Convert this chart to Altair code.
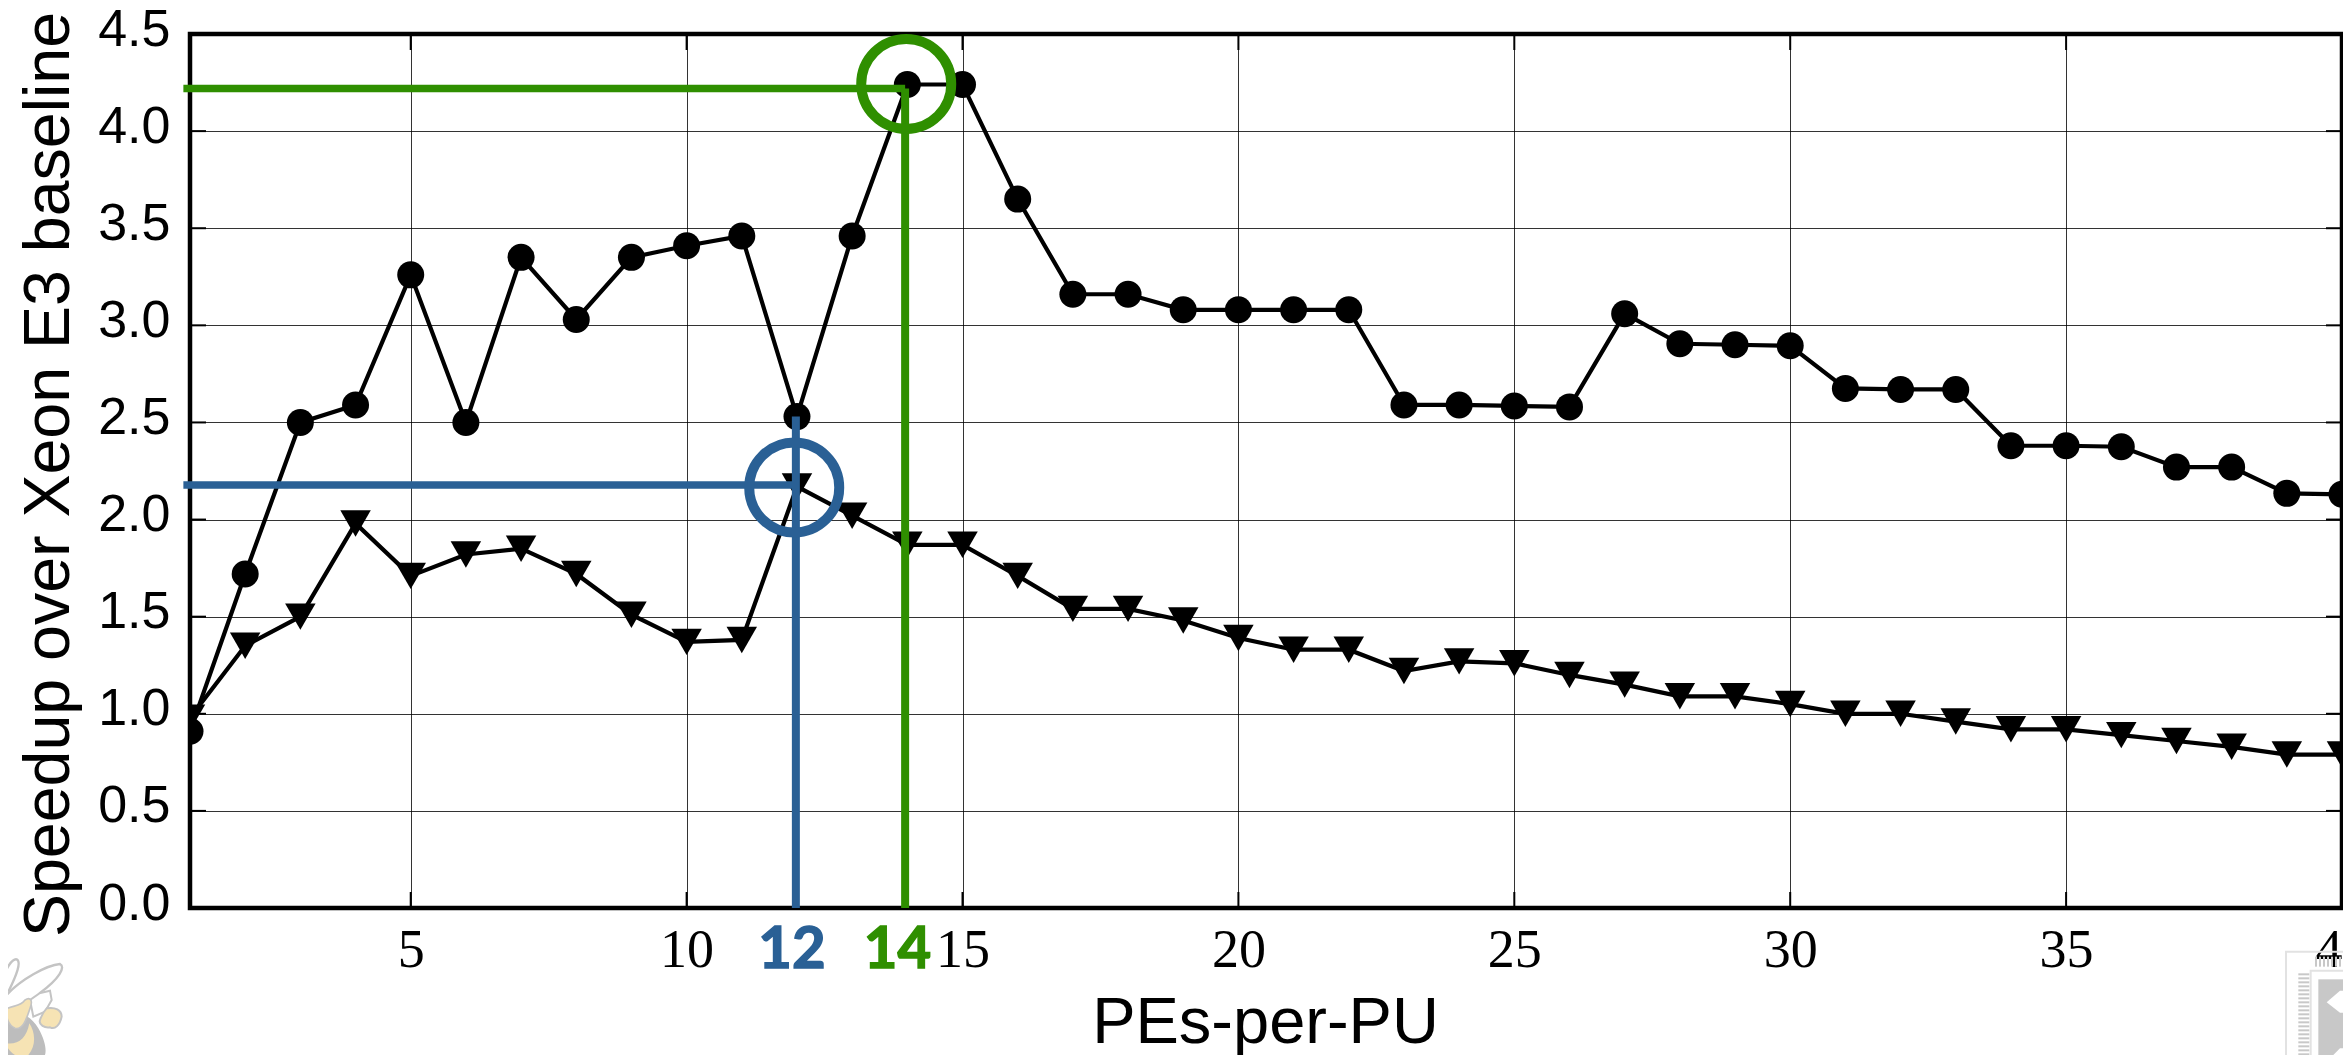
import urllib.parse
import altair as alt
import pandas as pd

pes = list(range(1, 41))
circle_speedup = [0.91, 1.72, 2.50, 2.59, 3.26, 2.50, 3.35, 3.03, 3.35, 3.41,
                  3.46, 2.53, 3.46, 4.24, 4.24, 3.65, 3.16, 3.16, 3.08, 3.08,
                  3.08, 3.08, 2.59, 2.59, 2.585, 2.58, 3.06, 2.905, 2.90, 2.895,
                  2.675, 2.67, 2.67, 2.38, 2.38, 2.375, 2.27, 2.27, 2.135, 2.13]
triangle_speedup = [0.98, 1.35, 1.50, 1.98, 1.71, 1.82, 1.85, 1.72, 1.51, 1.37,
                    1.38, 2.17, 2.02, 1.87, 1.87, 1.71, 1.54, 1.54, 1.48, 1.39,
                    1.33, 1.33, 1.22, 1.27, 1.26, 1.20, 1.15, 1.09, 1.09, 1.05,
                    1.00, 1.00, 0.96, 0.92, 0.92, 0.89, 0.86, 0.83, 0.79, 0.79]
x_ticks = [5, 10, 15, 20, 25, 30, 35, 40]
y_ticks = [0.5, 1.0, 1.5, 2.0, 2.5, 3.0, 3.5, 4.0]
y_labels = [0.0, 0.5, 1.0, 1.5, 2.0, 2.5, 3.0, 3.5, 4.0, 4.5]

BLUE = "#2a6095"
GREEN = "#2f8f00"
callouts = pd.DataFrame({
    "label": ["12", "14"], "color": [BLUE, GREEN],
    "x": [11.98, 13.96], "y": [2.178, 4.22],
    "top": [2.53, 4.22], "x_start": [0.88, 0.88],
    "cx": [11.95, 13.98], "cy": [2.165, 4.243],
    "label_x": [11.91, 13.82],
})

W, H = 2152, 874
colors = alt.Scale(domain=[BLUE, GREEN], range=[BLUE, GREEN])
xs = alt.Scale(domain=[1, 40], nice=False, zero=False)
ys = alt.Scale(domain=[0, 4.5], nice=False)

x_axis = alt.Axis(
    values=x_ticks, grid=True, gridColor="#000000", gridWidth=1, gridOpacity=0.8,
    ticks=False, domain=False, labelFont="Liberation Serif", labelFontSize=54,
    labelPadding=15, labelColor="#000000", labelFlush=False, labelOverlap=False,
    format="d", title="PEs-per-PU", titleFont="Liberation Sans", titleFontSize=65,
    titleFontWeight="normal", titleColor="#000000", titleX=1075, titleY=134,
    titleBaseline="alphabetic", titleAlign="center")
y_axis = alt.Axis(
    values=y_labels, grid=True, gridColor="#000000", gridWidth=1, gridOpacity=0.8,
    ticks=False, domain=False, labelFont="Liberation Sans", labelFontSize=52,
    labelPadding=20, labelColor="#000000", labelFlush=False, labelOverlap=False,
    labelOffset=-5, labelBaseline="middle", format=".1f",
    title="Speedup over Xeon E3 baseline", titleFont="Liberation Sans", titleFontSize=64.5,
    titleFontWeight="normal", titleColor="#000000", titleX=-122, titleY=440,
    titleAngle=270, titleBaseline="alphabetic", titleAlign="center")


def X(field):
    return alt.X(field, scale=xs, axis=x_axis)


def Y(field):
    return alt.Y(field, scale=ys, axis=y_axis)


BEE = """<svg xmlns='http://www.w3.org/2000/svg' width='80' height='105' viewBox='0 0 240 315'>
<path d='M0,315 L0,195 C40,175 90,190 115,235 C135,270 140,300 135,315 Z' fill='#bdbdbd'/>
<path d='M18,280 C55,285 80,265 88,220 C105,245 110,285 85,315 L45,315 C30,305 22,295 18,280 Z' fill='#f6e3b4'/>
<path d='M0,120 C12,140 15,170 0,190 Z' fill='#f6e3b4' stroke='#c4c4c4' stroke-width='6'/>
<path d='M5,100 C15,60 35,25 50,28 C65,35 50,75 25,125' fill='#fff' stroke='#c4c4c4' stroke-width='7'/>
<path d='M20,135 C60,90 140,45 180,42 C197,50 180,85 118,130' fill='#fff' stroke='#c4c4c4' stroke-width='7'/>
<path d='M118,130 L150,122 L155,150 L135,185 L100,200 L90,150 Z' fill='#fff' stroke='#c4c4c4' stroke-width='6'/>
<path d='M22,175 C45,165 60,170 75,150 C90,140 100,150 90,175 C80,205 70,240 45,235 C25,225 15,200 22,175 Z' fill='#f6e3b4' stroke='#c4c4c4' stroke-width='5'/>
<path d='M140,175 C165,170 185,180 185,200 C180,225 165,240 150,232 C135,235 115,225 120,210 C125,195 130,185 140,175 Z' fill='#f6e3b4' stroke='#c4c4c4' stroke-width='6'/>
</svg>"""

pins_top = "".join(f"<rect x='{x}' y='50' width='6' height='30' fill='#c8c8c8'/>" for x in range(135, 243, 12))
pins_left = "".join(f"<rect x='85' y='{y}' width='33' height='6' fill='#c8c8c8'/>" for y in range(100, 345, 12))
CHIP = f"""<svg xmlns='http://www.w3.org/2000/svg' width='81' height='115' viewBox='0 0 243 345'>
<path d='M243,35 L48,35 L48,345' fill='none' stroke='#e2e2e2' stroke-width='6'/>
{pins_top}{pins_left}
<path d='M243,92 L122,92 L122,345' fill='none' stroke='#e2e2e2' stroke-width='6'/>
<rect x='145' y='118' width='98' height='227' fill='#c8c8c8'/>
<path d='M170,187 L210,152 L243,152 L243,218 L210,218 Z' fill='#fff'/>
<path d='M190,345 L210,325 L243,325 L243,345 Z' fill='#fff'/>
</svg>"""


def logo(svg, px, py, w, h):
    url = "data:image/svg+xml;utf8," + urllib.parse.quote(svg)
    return alt.Chart(pd.DataFrame({"n": [0]})).mark_image(
        width=w, height=h, align="left", baseline="top"
    ).encode(x=alt.value(px), y=alt.value(py), url=alt.value(url))


bee = logo(BEE, -190, 916, 80, 105)
chip = logo(CHIP, 2080, 906, 81, 115)


def tick_x(py0, py1):
    return alt.Chart(pd.DataFrame({"v": x_ticks})).mark_rule(color="black", strokeWidth=2).encode(
        x=X("v:Q"), y=alt.value(py0), y2=alt.value(py1))


def tick_y(px0, px1):
    return alt.Chart(pd.DataFrame({"v": y_ticks})).mark_rule(color="black", strokeWidth=2).encode(
        y=Y("v:Q"), x=alt.value(px0), x2=alt.value(px1))


def series(values, shape, size):
    df = pd.DataFrame({"x": pes, "y": values})
    enc = dict(x=X("x:Q"), y=Y("y:Q"))
    line = alt.Chart(df).mark_line(color="black", strokeWidth=4.2, clip=True).encode(**enc)
    pts = alt.Chart(df).mark_point(
        shape=shape, size=size, filled=True, color="black", opacity=1, clip=True
    ).encode(**enc)
    return line + pts


cx = alt.Chart(callouts)
color_enc = alt.Color("color:N", scale=colors, legend=None)
h_line = cx.mark_rule(strokeWidth=7.5).encode(
    x=X("x_start:Q"), x2="x:Q", y=Y("y:Q"), color=color_enc)
v_line = cx.mark_rule(strokeWidth=8).encode(
    x=X("x:Q"), y=Y("top:Q"), y2=alt.datum(0), color=color_enc)
rings = cx.mark_point(shape="circle", size=8100, filled=False, strokeWidth=10, opacity=1).encode(
    x=X("cx:Q"), y=Y("cy:Q"), color=color_enc)
labels = cx.mark_text(font="Lato", fontWeight="bold", fontSize=58, baseline="alphabetic",
                      align="center", strokeWidth=1.5).encode(
    x=X("label_x:Q"), y=alt.value(934), text="label:N", color=color_enc,
    stroke=alt.Stroke("color:N", scale=colors, legend=None))

chart = alt.layer(
    bee, chip,
    tick_x(H - 16, H), tick_x(0, 16), tick_y(0, 16), tick_y(W - 16, W),
    series(circle_speedup, "circle", 729),
    series(triangle_speedup, "triangle-down", 930),
    h_line, v_line, rings, labels,
).properties(
    width=W, height=H,
    autosize=alt.AutoSizeParams(type="none"),
    padding={"left": 182, "top": 26, "right": 1, "bottom": 147},
    background="white",
).configure_view(stroke="black", strokeWidth=4.5)

chart.save("out.html", embed_options={"renderer": "svg", "actions": False})
